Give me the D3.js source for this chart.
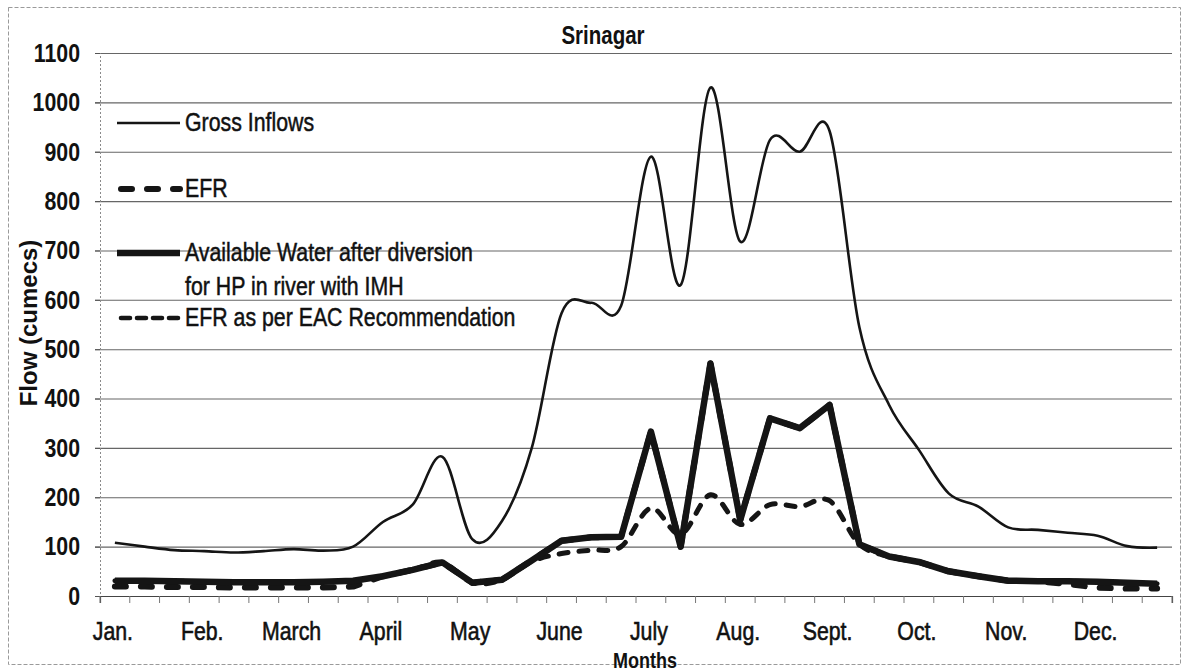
<!DOCTYPE html>
<html>
<head>
<meta charset="utf-8">
<title>Srinagar</title>
<script src="https://d3js.org/d3.v7.min.js"></script>
<style>
  body { margin: 0; background: #fff; }
  svg { display: block; }
  text { font-family: "Liberation Sans", Arial, sans-serif; }
</style>
</head>
<body>
<svg id="chart"></svg>
<script>
// chart data (three 10-daily periods per month)
const months = ["Jan.", "Feb.", "March", "April", "May", "June", "July", "Aug.", "Sept.", "Oct.", "Nov.", "Dec."];
const periods = months.flatMap(m => [m + " I", m + " II", m + " III"]);

const grossInflows = [108, 100, 93, 91, 88, 91, 95, 92, 100, 150, 185, 282,
  115, 152, 300, 573, 594, 588, 890, 630, 1030, 718, 924, 900,
  942, 545, 387, 296, 208, 181, 139, 134, 128, 122, 101, 98];

const efr = [19, 19, 18, 18, 17, 17, 17, 17, 19, 40, 53, 68,
  27, 33, 72, 112, 119, 120, 333, 100, 471, 154, 360, 340,
  387, 105, 80, 69, 50, 40, 31, 30, 24, 17, 15, 15];

const availableWater = [31, 31, 30, 29, 28, 28, 28, 29, 31, 40, 53, 68,
  27, 33, 72, 112, 119, 120, 333, 100, 471, 154, 360, 340,
  387, 105, 80, 69, 50, 40, 31, 30, 30, 29, 27, 25];

const efrEac = [31, 31, 30, 29, 28, 28, 28, 29, 31, 40, 53, 68,
  27, 33, 70, 86, 93, 100, 178, 125, 205, 145, 185, 181,
  193, 105, 80, 69, 50, 40, 31, 30, 30, 29, 27, 25];

const yTicks = [0, 100, 200, 300, 400, 500, 600, 700, 800, 900, 1000, 1100];

const width = 1187;
const height = 672;
const squeeze = 0.82; // narrow lettering like the original

const svg = d3.select("#chart")
  .attr("width", width)
  .attr("height", height)
  .attr("viewBox", `0 0 ${width} ${height}`);

// helper for a horizontally squeezed text
function addText(parent, x, y, str, size, opts = {}) {
  return parent.append("text")
    .attr("transform", `translate(${x},${y}) scale(${squeeze},1)`)
    .attr("text-anchor", opts.anchor || "start")
    .attr("font-size", size)
    .attr("font-weight", opts.bold ? "bold" : "normal")
    .attr("fill", "#111")
    .attr("stroke", opts.bold ? null : "#111")
    .attr("stroke-width", opts.bold ? null : 0.5)
    .text(str);
}

// scanned-page frame
svg.append("rect")
  .attr("x", 8.5).attr("y", 7.5)
  .attr("width", 1172).attr("height", 657)
  .attr("fill", "none")
  .attr("stroke", "#9a9a9a")
  .attr("stroke-dasharray", "4,2");

const plot = { left: 100, right: 1172, top: 53, bottom: 596 };

const x = d3.scaleBand()
  .domain(periods)
  .range([plot.left, plot.right])
  .paddingInner(0)
  .paddingOuter(0);

const y = d3.scaleLinear()
  .domain([0, 1100])
  .range([plot.bottom, plot.top]);

const cx = p => x(p) + x.bandwidth() / 2;

// horizontal gridlines
const grid = svg.append("g")
  .attr("transform", `translate(${plot.left - 5},0)`)
  .call(d3.axisRight(y).tickValues(yTicks).tickSize(plot.right - plot.left + 5).tickFormat(""));
grid.select(".domain").remove();
grid.selectAll(".tick line")
  .attr("stroke", "#666")
  .attr("stroke-width", 1.1);

// y axis
const yAxisG = svg.append("g")
  .attr("transform", `translate(${plot.left},0)`)
  .call(d3.axisLeft(y).tickValues(yTicks).tickSize(5).tickFormat(d3.format("d")));
yAxisG.select(".domain")
  .attr("stroke", "#8a8a8a")
  .attr("stroke-dasharray", "2,2");
yAxisG.selectAll(".tick line").attr("stroke", "#555");
yAxisG.selectAll("text")
  .attr("x", null)
  .attr("transform", `translate(-20,0) scale(${squeeze},1)`)
  .attr("font-size", 26)
  .attr("font-weight", "bold")
  .attr("fill", "#111");

svg.append("text")
  .attr("transform", "translate(37,323) rotate(-90)")
  .attr("text-anchor", "middle")
  .attr("font-size", 24)
  .attr("font-weight", "bold")
  .attr("fill", "#111")
  .text("Flow (cumecs)");

// x axis: a tick between every period, month names every third period
const xTickAxis = svg.append("g")
  .attr("transform", `translate(0,${plot.bottom})`)
  .call(d3.axisBottom(x).tickSize(7).tickFormat(""));
xTickAxis.select(".domain").attr("stroke", "#444").attr("stroke-width", 1.2);
xTickAxis.selectAll(".tick")
  .attr("transform", d => `translate(${x(d)},0)`);
xTickAxis.selectAll(".tick line").attr("stroke", "#777");
xTickAxis.append("line")
  .attr("x1", plot.right).attr("x2", plot.right)
  .attr("y1", 0).attr("y2", 7)
  .attr("stroke", "#777");

const xLabelAxis = svg.append("g")
  .attr("transform", `translate(-2,${plot.bottom})`)
  .call(d3.axisBottom(x)
    .tickValues(periods.filter((d, i) => i % 3 === 0))
    .tickSize(0)
    .tickFormat(d => d.split(" ")[0]));
xLabelAxis.select(".domain").remove();
xLabelAxis.selectAll("text")
  .attr("y", null)
  .attr("transform", `translate(0,26) scale(${squeeze},1)`)
  .attr("font-size", 26)
  .attr("fill", "#111")
  .attr("stroke", "#111")
  .attr("stroke-width", 0.6);

addText(svg, 645, 668, "Months", 22, { anchor: "middle", bold: true });

// title
addText(svg, 603, 44, "Srinagar", 25, { anchor: "middle", bold: true });

// series
const lineSmooth = d3.line()
  .x((d, i) => cx(periods[i]))
  .y(d => y(d))
  .curve(d3.curveCardinal);

const lineStraight = d3.line()
  .x((d, i) => cx(periods[i]))
  .y(d => y(d));

const series = [
  { name: "gross", values: grossInflows, gen: lineSmooth, width: 2.6, dash: null },
  { name: "efr", values: efr, gen: lineStraight, width: 6, dash: "11,15" },
  { name: "eac", values: efrEac, gen: lineSmooth, width: 5, dash: "9,11" },
  { name: "avail", values: availableWater, gen: lineStraight, width: 6.5, dash: null }
];

svg.append("g")
  .selectAll("path")
  .data(series)
  .join("path")
  .attr("class", d => "series " + d.name)
  .attr("d", d => d.gen(d.values))
  .attr("fill", "none")
  .attr("stroke", "#151515")
  .attr("stroke-width", d => d.width)
  .attr("stroke-linecap", d => d.dash ? "round" : "butt")
  .attr("stroke-linejoin", "round")
  .attr("stroke-dasharray", d => d.dash);

// legend
const legendItems = [
  { lines: ["Gross Inflows"], y: 123, width: 2.6, dash: null },
  { lines: ["EFR"], y: 189, width: 6, dash: "11,15" },
  { lines: ["Available Water after diversion", "for HP in river with IMH"], y: 253, width: 6.5, dash: null },
  { lines: ["EFR as per EAC Recommendation"], y: 318, width: 4.6, dash: "9,7" }
];

const legend = svg.append("g");
legendItems.forEach(item => {
  legend.append("line")
    .attr("x1", item.dash ? 121 : 117).attr("x2", 180)
    .attr("y1", item.y).attr("y2", item.y)
    .attr("stroke", "#151515")
    .attr("stroke-width", item.width)
    .attr("stroke-linecap", item.dash ? "round" : "butt")
    .attr("stroke-dasharray", item.dash);
  item.lines.forEach((t, k) => {
    addText(legend, 185, item.y + 8 + k * 34, t, 26);
  });
});
</script>
</body>
</html>
